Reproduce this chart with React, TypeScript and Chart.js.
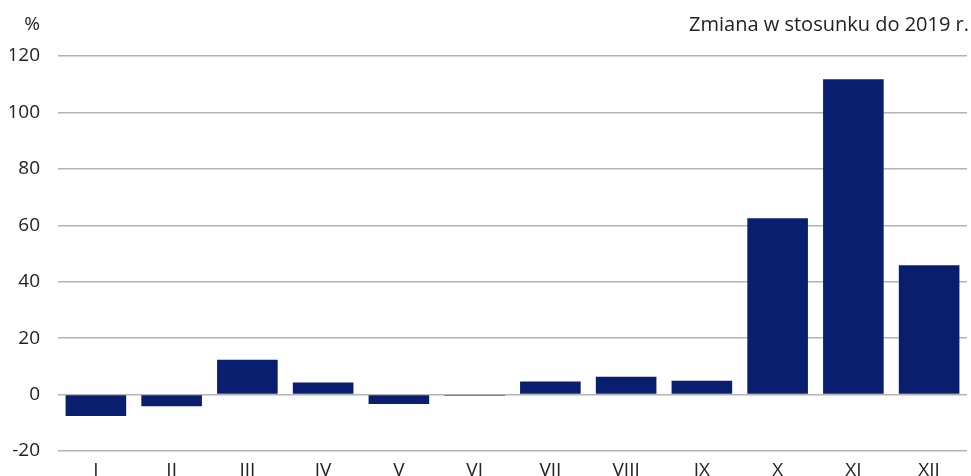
import React, { useEffect, useRef } from "react";
import { Chart, registerables } from "chart.js";

Chart.register(...registerables);

const categories = ["I", "II", "III", "IV", "V", "VI", "VII", "VIII", "IX", "X", "XI", "XII"];
const values = [-7.6, -4.1, 12.3, 4.3, -3.3, -0.4, 4.6, 6.3, 4.9, 62.5, 111.8, 45.8];
const unitLabel = "%";
const noteLabel = "Zmiana w stosunku do 2019 r.";
const yMin = -20;
const yMax = 120;
const yStep = 20;

const FONT = "'Open Sans', 'Noto Sans', sans-serif";

const textPlugin = {
  id: "cornerTexts",
  afterDraw(chart: any) {
    const ctx = chart.ctx;
    ctx.save();
    ctx.fillStyle = "#222";
    ctx.font = `19px ${FONT}`;
    ctx.textBaseline = "middle";
    ctx.textAlign = "right";
    ctx.fillText(unitLabel, 40, 25);
    ctx.font = `20px ${FONT}`;
    ctx.fillText(noteLabel, chart.width - 2, 25);
    ctx.restore();
  },
};

export default function App() {
  const ref = useRef<HTMLCanvasElement | null>(null);
  useEffect(() => {
    document.body.style.margin = "0";
    document.body.style.overflow = "hidden";
    const chart = new Chart(ref.current!, {
      type: "bar",
      data: {
        labels: categories,
        datasets: [
          {
            data: values,
            backgroundColor: "#0a1e70",
            borderWidth: 0,
            barPercentage: 0.8,
            categoryPercentage: 1,
          },
        ],
      },
      options: {
        animation: false,
        responsive: false,
        maintainAspectRatio: false,
        layout: { padding: { top: 56, left: 10, right: 4, bottom: 9 } },
        plugins: { legend: { display: false }, tooltip: { enabled: false } },
        scales: {
          x: {
            grid: { display: false, drawTicks: false },
            border: { display: false },
            ticks: { color: "#222", font: { family: FONT, size: 19 }, padding: 8 },
            afterFit(scale: any) {
              scale.height = 30;
            },
          },
          y: {
            min: yMin,
            max: yMax,
            grid: { color: "#b4b4b4", lineWidth: 1.5, drawTicks: false },
            border: { display: false },
            ticks: {
              stepSize: yStep,
              color: "#222",
              font: { family: FONT, size: 19 },
              padding: 18,
            },
            afterFit(scale: any) {
              scale.width = 48;
            },
          },
        },
      },
      plugins: [textPlugin],
    });
    return () => chart.destroy();
  }, []);
  return <canvas ref={ref} width={971} height={490} style={{ display: "block" }} />;
}
